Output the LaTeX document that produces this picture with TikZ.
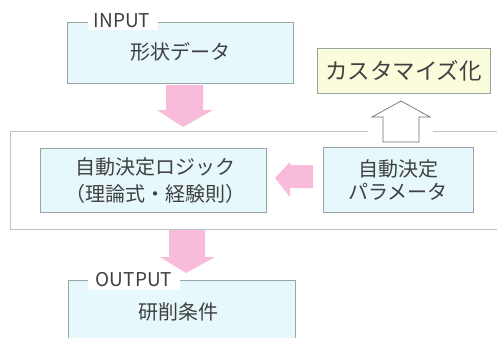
\documentclass[tikz,border=0pt]{standalone}
\usepackage{fontspec}
\setmainfont{Noto Sans CJK JP}
\definecolor{boxfill}{HTML}{E6F8FB}
\definecolor{boxline}{HTML}{9AA6A6}
\definecolor{framel}{HTML}{BCC4C4}
\definecolor{pinkar}{HTML}{F8BCDA}
\definecolor{yelfill}{HTML}{FAFCDC}
\definecolor{txt}{HTML}{404040}
\tikzset{
  bluebox/.style={draw=boxline, fill=boxfill, line width=0.7pt},
  pinkarrow/.style={fill=pinkar, draw=none},
  lbl/.style={text=txt, font=\fontsize{19}{22}\selectfont, inner sep=0pt},
  jtxt/.style={text=txt, font=\fontsize{20}{27}\selectfont, align=center, inner sep=0pt},
}
\begin{document}
\begin{tikzpicture}[x=1pt,y=-1pt]
\useasboundingbox (0,0) rectangle (497,337);
\clip (0,0) rectangle (497,337);
\fill[white] (0,0) rectangle (497,337);
% INPUT box
\path[bluebox] (67,22) rectangle (293,83);
\fill[white] (88,14) rectangle (158,30);
\node[lbl] (inlbl) at (122,21) {INPUT};
\node[jtxt] (shape) at (180,52) {形状データ};
% pink arrow 1
\path[pinkarrow] (166,85) -- (203,85) -- (203,110) -- (213,110) -- (183,127) -- (157,110) -- (166,110) -- cycle;
% customize box
\node[draw=boxline, fill=yelfill, line width=0.5pt, minimum width=173pt, minimum height=45pt, text=txt, font=\fontsize{22.5}{26}\selectfont, inner sep=0pt] (cust) at (403.5,70.5) {カスタマイズ化};
% middle frame
\draw[framel, line width=0.7pt] (10,131) -- (505,131);
\draw[framel, line width=0.7pt] (10,229) -- (505,229);
\draw[framel, line width=0.7pt] (10,131) -- (10,229);
\fill[white] (368,126) rectangle (433,136);
% white up arrow
\draw[draw=txt!75, fill=white, line width=0.7pt] (383,142) -- (383,117) -- (372,117) -- (401,101) -- (430,117) -- (419,117) -- (419,142) -- cycle;
% inner boxes
\path[bluebox] (40,148) rectangle (266,212);
\node[jtxt] (logic) at (155,181) {自動決定ロジック\\（理論式・経験則）};
\path[bluebox] (323,147) rectangle (473,212);
\node[jtxt, font=\fontsize{20}{23}\selectfont] (param) at (398,180) {自動決定\\パラメータ};
% pink left arrow
\path[pinkarrow] (313,165) -- (313,188) -- (290,188) -- (290,197) -- (275,178) -- (290,162) -- (290,165) -- cycle;
% pink arrow 2
\path[pinkarrow] (169,230) -- (205,230) -- (205,257) -- (215,257) -- (186,273) -- (160,257) -- (169,257) -- cycle;
% OUTPUT box
\path[bluebox] (68,280) rectangle (295,345);
\fill[white] (88,270) rectangle (180,290);
\node[lbl] (outlbl) at (134,280) {OUTPUT};
\node[jtxt] (cond) at (178,312) {研削条件};
\end{tikzpicture}
\end{document}
